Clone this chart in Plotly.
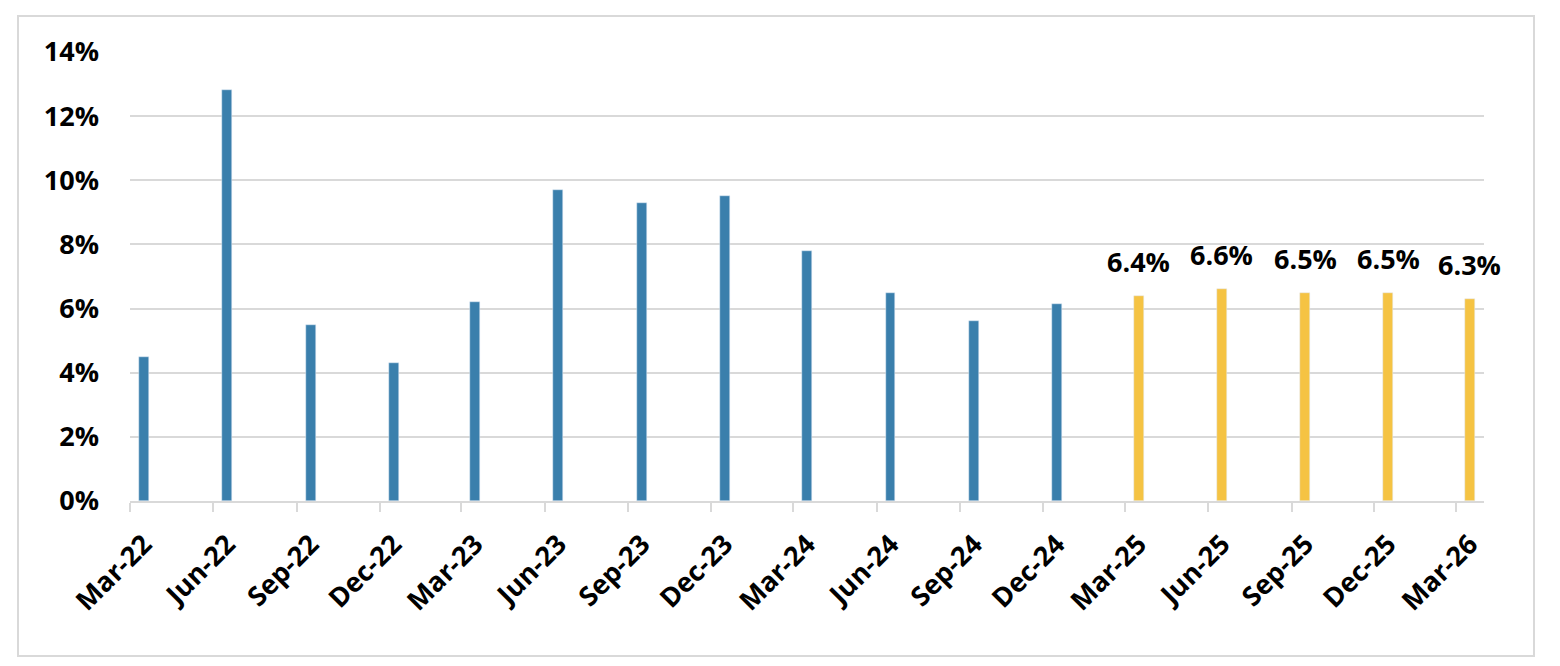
import plotly.graph_objects as go
import pandas as pd

# Data
hist_months = ["2022-03-01", "2022-06-01", "2022-09-01", "2022-12-01", "2023-03-01", "2023-06-01",
               "2023-09-01", "2023-12-01", "2024-03-01", "2024-06-01", "2024-09-01", "2024-12-01"]
hist_values = [4.5, 12.8, 5.5, 4.3, 6.2, 9.7, 9.3, 9.5, 7.8, 6.5, 5.6, 6.15]
fc_months = ["2025-03-01", "2025-06-01", "2025-09-01", "2025-12-01", "2026-03-01"]
fc_values = [6.4, 6.6, 6.5, 6.5, 6.3]
fc_labels = ["6.4%", "6.6%", "6.5%", "6.5%", "6.3%"]
tick_dates = hist_months + fc_months
tick_labels = ["Mar-22", "Jun-22", "Sep-22", "Dec-22", "Mar-23", "Jun-23", "Sep-23", "Dec-23",
               "Mar-24", "Jun-24", "Sep-24", "Dec-24", "Mar-25", "Jun-25", "Sep-25", "Dec-25", "Mar-26"]
y_ticks = [0, 2, 4, 6, 8, 10, 12, 14]
y_tick_labels = ["0%", "2%", "4%", "6%", "8%", "10%", "12%", "14%"]

FONT = "Open Sans"
FS = 27
BAR_W = 11 * 86400000  # ms

fig = go.Figure()
fig.add_trace(go.Bar(x=hist_months, y=hist_values, marker_color="#3A7FAC",
                     xperiod="M1", xperiodalignment="middle", width=BAR_W, showlegend=False,
                     hoverinfo="skip"))
fig.add_trace(go.Bar(x=fc_months, y=fc_values, marker_color="#F5C343",
                     xperiod="M1", xperiodalignment="middle", width=BAR_W, showlegend=False,
                     hoverinfo="skip"))

# data labels above forecast bars (mid-month positions)
for m, v, t in zip(fc_months, fc_values, fc_labels):
    xm = pd.Timestamp(m) + (pd.Timestamp(m) + pd.offsets.MonthBegin(1) - pd.Timestamp(m)) / 2
    fig.add_annotation(x=xm, y=v, text=t, showarrow=False, yanchor="bottom", yshift=14,
                       font=dict(family=FONT, size=FS, color="black", weight="bold"))

fig.update_layout(
    width=1552, height=658,
    margin=dict(l=122, r=76, t=44, b=165),
    paper_bgcolor="white", plot_bgcolor="white",
    bargap=0,
    font=dict(family=FONT, size=FS, color="black", weight="bold"),
)
fig.update_xaxes(
    type="date", range=["2022-03-01", "2026-04-01"],
    tickvals=tick_dates, ticktext=tick_labels, tickangle=-45,
    ticks="outside", ticklen=9, tickcolor="#D9D9D9", tickwidth=1.5,
    showline=True, linecolor="#D9D9D9", linewidth=1.5,
    showgrid=False, zeroline=False,
    ticklabelshift=14, ticklabelstandoff=6,
    tickfont=dict(family=FONT, size=FS, color="black", weight="bold"),
)
fig.update_yaxes(
    range=[0, 14], tickvals=y_ticks, ticktext=y_tick_labels,
    showgrid=True, gridcolor="#D9D9D9", gridwidth=1.5, zeroline=False,
    showline=False, ticks="", ticklabelstandoff=30,
    tickfont=dict(family=FONT, size=FS, color="black", weight="bold"),
)
fig.add_shape(type="rect", xref="paper", yref="paper",
              x0=(18 - 130) / 1354, x1=(1534 - 130) / 1354,
              y0=(501 - 656) / 449, y1=(501 - 16) / 449,
              line=dict(color="#D9D9D9", width=2), fillcolor="rgba(0,0,0,0)", layer="below")

fig.write_html("out.html")
